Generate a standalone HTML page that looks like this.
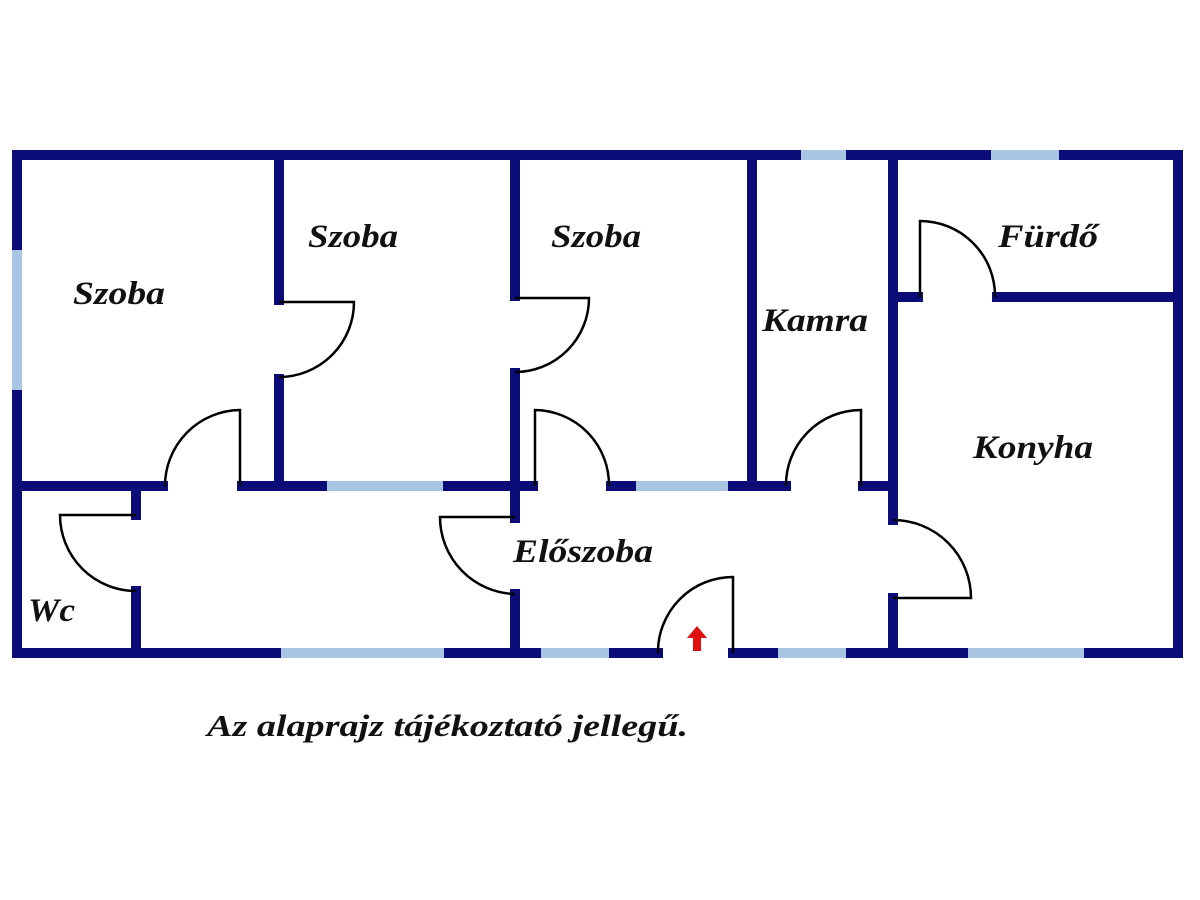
<!DOCTYPE html>
<html><head><meta charset="utf-8"><style>
html,body{margin:0;padding:0;background:#fff;width:1200px;height:900px;overflow:hidden}
text{font-family:"Liberation Serif",serif;font-weight:bold;font-style:italic;fill:#111}
</style></head><body>
<svg width="1200" height="900" viewBox="0 0 1200 900" xmlns="http://www.w3.org/2000/svg">
<g stroke="#0c0c78" stroke-width="10" stroke-linecap="square" fill="none">
<line x1="17" y1="155" x2="1178" y2="155"/>
<line x1="17" y1="155" x2="17" y2="653"/>
<line x1="1178" y1="155" x2="1178" y2="653"/>
<line x1="17" y1="653" x2="658" y2="653"/>
<line x1="733" y1="653" x2="1178" y2="653"/>
<line x1="279" y1="155" x2="279" y2="300"/>
<line x1="279" y1="379" x2="279" y2="486"/>
<line x1="515" y1="155" x2="515" y2="296"/>
<line x1="515" y1="373" x2="515" y2="518"/>
<line x1="515" y1="594" x2="515" y2="653"/>
<line x1="752" y1="155" x2="752" y2="486"/>
<line x1="893" y1="155" x2="893" y2="520"/>
<line x1="893" y1="598" x2="893" y2="653"/>
<line x1="17" y1="486" x2="163" y2="486"/>
<line x1="242" y1="486" x2="533" y2="486"/>
<line x1="611" y1="486" x2="786" y2="486"/>
<line x1="863" y1="486" x2="893" y2="486"/>
<line x1="136" y1="486" x2="136" y2="515"/>
<line x1="136" y1="591" x2="136" y2="653"/>
<line x1="893" y1="297" x2="918" y2="297"/>
<line x1="997" y1="297" x2="1178" y2="297"/>
</g>
<g stroke="#a8c6e4" stroke-width="10" fill="none">
<line x1="17" y1="250" x2="17" y2="390"/>
<line x1="327" y1="486" x2="443" y2="486"/>
<line x1="636" y1="486" x2="728" y2="486"/>
<line x1="281" y1="653" x2="444" y2="653"/>
<line x1="541" y1="653" x2="609" y2="653"/>
<line x1="778" y1="653" x2="846" y2="653"/>
<line x1="968" y1="653" x2="1084" y2="653"/>
<line x1="801" y1="155" x2="846" y2="155"/>
<line x1="991" y1="155" x2="1059" y2="155"/>
</g>
<g stroke="#000" stroke-width="2.5" fill="none">
<path d="M279 302 H354 A75 75 0 0 1 279 377"/>
<path d="M515 298 H589 A74 74 0 0 1 515 372"/>
<path d="M240 486 V410 A76 76 0 0 0 165 486"/>
<path d="M535 486 V410 A75 75 0 0 1 609 486"/>
<path d="M861 486 V410 A75 75 0 0 0 786 486"/>
<path d="M136 515 H60 A76 76 0 0 0 136 591"/>
<path d="M515 517 H440 A77 77 0 0 0 515 594"/>
<path d="M893 520 A78 78 0 0 1 971 598 H893"/>
<path d="M920 297 V221 A75 75 0 0 1 995 297"/>
<path d="M733 653 V577 A75 75 0 0 0 658 653"/>
</g>
<polygon points="697,626 707,638 701,638 701,651 693,651 693,638 687,638" fill="#e01010"/>
<g font-size="33">
<text x="73" y="304" textLength="92" lengthAdjust="spacingAndGlyphs">Szoba</text>
<text x="308" y="247" textLength="90" lengthAdjust="spacingAndGlyphs">Szoba</text>
<text x="551" y="247" textLength="90" lengthAdjust="spacingAndGlyphs">Szoba</text>
<text x="762" y="331" textLength="106" lengthAdjust="spacingAndGlyphs">Kamra</text>
<text x="998" y="247" textLength="100" lengthAdjust="spacingAndGlyphs">Fürdő</text>
<text x="973" y="458" textLength="120" lengthAdjust="spacingAndGlyphs">Konyha</text>
<text x="513" y="562" textLength="140" lengthAdjust="spacingAndGlyphs">Előszoba</text>
<text x="28" y="621" textLength="47" lengthAdjust="spacingAndGlyphs">Wc</text>
</g>
<text x="207" y="736" font-size="31" textLength="481" lengthAdjust="spacingAndGlyphs">Az alaprajz tájékoztató jellegű.</text>
</svg>
</body></html>
